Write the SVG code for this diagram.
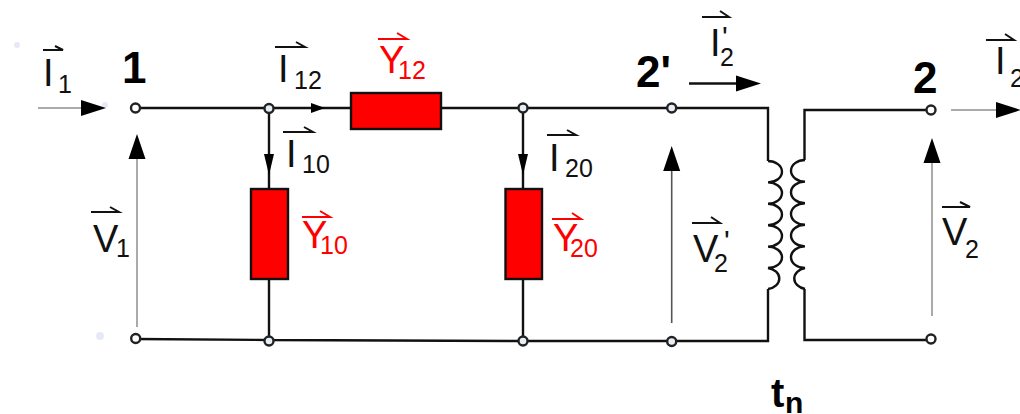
<svg xmlns="http://www.w3.org/2000/svg" width="1020" height="414" viewBox="0 0 1020 414">
<style>
text{font-family:"Liberation Sans",Arial,sans-serif;fill:#111}
.m{font-size:38px}
.s{font-size:25px}
.q{font-size:30px}
.b{font-size:44px;font-weight:700;fill:#000}
.r{fill:#f00}
.w{fill:none;stroke:#111;stroke-width:2.4}
.g{fill:none;stroke:#aaa;stroke-width:2}
.t{fill:none;stroke:#555;stroke-width:1.6}
.o{fill:none;stroke:#111;stroke-width:2}
.or{fill:none;stroke:#f00;stroke-width:2}
.z{fill:#f00;stroke:#111;stroke-width:2.4}
.n{fill:#e8eef6;stroke:#222;stroke-width:2.4}
.a{fill:#000}
.f{fill:#e6eaf6}
</style>
<g id="specks">
<circle class="f" cx="17" cy="45" r="3"/>
<circle class="f" cx="105" cy="105" r="3"/>
<circle class="f" cx="100" cy="336" r="4"/>
</g>
<g id="connectors">
<path class="w" d="M135.500 108H350M441 108H768V161M269 108V189M269 279V340M523 108V189M523 279V341M135.500 339L269 340L523 341L768 341V289M804.500 160V110H931M804.500 289V340H931"/>
<path class="w" d="M768 161A14 10.700 0 0 1 768 182.400A14 10.700 0 0 1 768 203.800A14 10.700 0 0 1 768 225.200A14 10.700 0 0 1 768 246.600A14 10.700 0 0 1 768 268A14 10.700 0 0 1 768 289"/>
<path class="w" d="M805 160A14 10.800 0 0 0 805 181.600A14 10.800 0 0 0 805 203.200A14 10.800 0 0 0 805 224.800A14 10.800 0 0 0 805 246.400A14 10.800 0 0 0 805 268A14 10.800 0 0 0 805 289"/>
<path class="g" d="M38 108H85M137 159V327M951 110H997M932 163V316"/>
<path class="t" d="M671.700 171V323"/>
<path class="w" d="M689 83.500H737"/>
<path class="a" d="M325 108L311 103V113ZM269 175L264 154H274ZM523 175L518 154H528ZM106 108L81 100V116ZM137 134L128.500 159H145.500ZM671.700 146L663.200 171H680.200ZM932 138L923.500 163H940.500ZM761 83.500L736 75.500V91.500ZM1021 110L996 102V118Z"/>
</g>
<g id="Y12"><rect class="z" x="351" y="93" width="90" height="36"/></g>
<g id="Y10"><rect class="z" x="251" y="189" width="37" height="90"/></g>
<g id="Y20"><rect class="z" x="505.500" y="189" width="36.500" height="90"/></g>
<g id="node-1"><circle class="n" cx="135.500" cy="108" r="4.500" style="fill:#fff"/><text class="b" x="122" y="83">1</text></g>
<g id="node-a"><circle class="n" cx="269" cy="108.500" r="4.500"/></g>
<g id="node-b"><circle class="n" cx="523" cy="108" r="4.500"/></g>
<g id="node-2p"><circle class="n" cx="671.700" cy="108" r="4.500"/><text class="b" x="636" y="87">2'</text></g>
<g id="node-2"><circle class="n" cx="931" cy="110" r="4.500" style="fill:#fff"/><text class="b" x="913" y="93">2</text></g>
<g id="node-c"><circle class="n" cx="135.700" cy="338.500" r="4.500" style="fill:#fff"/></g>
<g id="node-d"><circle class="n" cx="269" cy="341" r="4.500"/></g>
<g id="node-e"><circle class="n" cx="523" cy="341" r="4.500"/></g>
<g id="node-f"><circle class="n" cx="671.700" cy="341.500" r="4.500"/></g>
<g id="node-g"><circle class="n" cx="931" cy="339" r="4.500" style="fill:#fff"/></g>
<g id="labels">
<text class="m" x="43" y="86">I<tspan class="s" x="58" y="93">1</tspan></text>
<path class="o" d="M43 50H63L55 46"/>
<text class="m" x="278" y="82">I<tspan class="s" x="294" y="89">12</tspan></text>
<path class="o" d="M275 47H305L296 42"/>
<text class="m" x="286" y="167">I<tspan class="s" x="302" y="173">10</tspan></text>
<path class="o" d="M283 132H313L304 127"/>
<text class="m" x="549" y="171">I<tspan class="s" x="565" y="177">20</tspan></text>
<path class="o" d="M547 135H576L567 130"/>
<text class="m" x="710" y="56">I<tspan class="s" x="720" y="66">2</tspan><tspan class="q" x="722" y="47">'</tspan></text>
<path class="o" d="M702 17H729L720 11"/>
<text class="m" x="995" y="74">I<tspan class="s" x="1010" y="87">2</tspan></text>
<path class="o" d="M986 40H1014L1005 34"/>
<text class="m" x="93" y="252">V<tspan class="s" x="116" y="257">1</tspan></text>
<path class="o" d="M91 212H119L110 207"/>
<text class="m" x="693" y="262">V<tspan class="s" x="714" y="272">2</tspan><tspan class="q" x="724" y="251">'</tspan></text>
<path class="o" d="M692 223H720L711 217"/>
<text class="m" x="942" y="245">V<tspan class="s" x="965" y="258">2</tspan></text>
<path class="o" d="M942 207H970L960 202"/>
<text class="m r" x="379" y="73">Y<tspan class="s r" x="398" y="79">12</tspan></text>
<path class="or" d="M378 39H407L397 33"/>
<text class="m r" x="302" y="248">Y<tspan class="s r" x="320" y="254">10</tspan></text>
<path class="or" d="M302 217H330L320 211"/>
<text class="m r" x="553" y="251">Y<tspan class="s r" x="570" y="257">20</tspan></text>
<path class="or" d="M552 219H581L572 213"/>
<text class="b" x="771" y="407" style="font-size:40px">t<tspan x="785" y="413" style="font-size:30px">n</tspan></text>
</g>
</svg>
